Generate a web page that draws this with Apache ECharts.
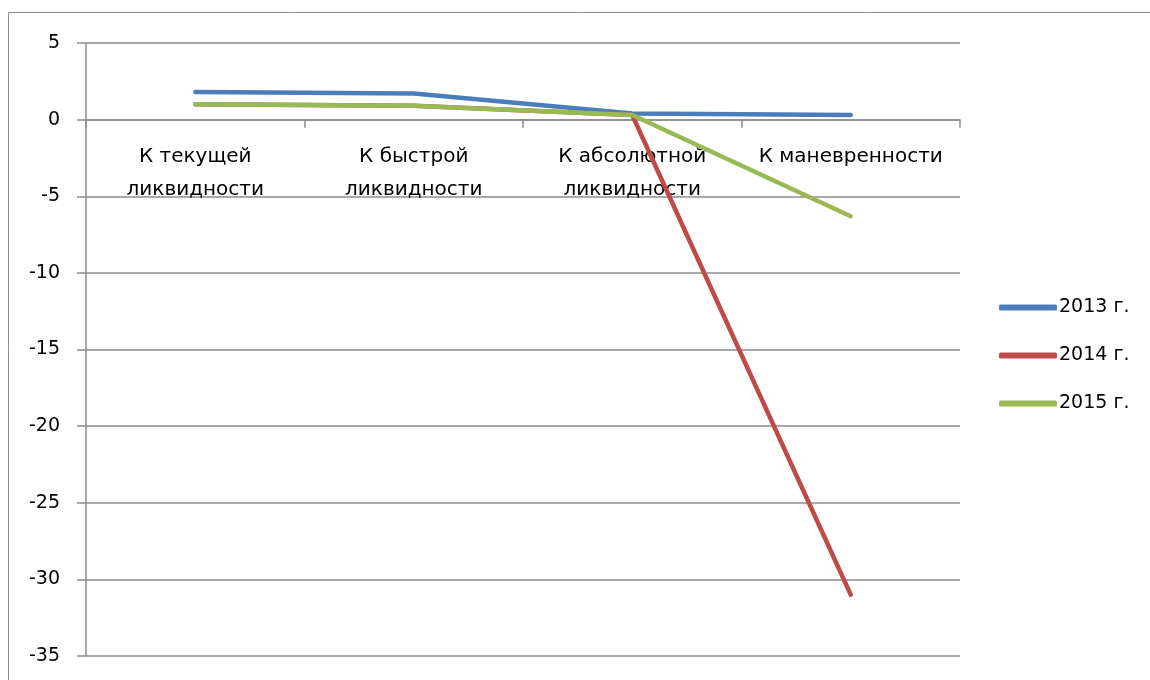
<!DOCTYPE html>
<html>
<head>
<meta charset="utf-8">
<script src="https://cdn.jsdelivr.net/npm/echarts@6/dist/echarts.min.js"></script>
<style>
  html, body { margin: 0; padding: 0; background: #fff; }
  #chart { width: 1150px; height: 680px; }
</style>
</head>
<body>
<div id="chart"></div>
<script>
// Liquidity ratios by year
const categories = ['К текущей\nликвидности', 'К быстрой\nликвидности', 'К абсолютной\nликвидности', 'К маневренности'];
const seriesNames = ['2013 г.', '2014 г.', '2015 г.'];
const values2013 = [1.8, 1.7, 0.4, 0.3];
const values2014 = [1.0, 0.9, 0.3, -31.0];
const values2015 = [1.0, 0.9, 0.3, -6.3];
const yTicks = { min: -35, max: 5, interval: 5 };
const colors = ['#4A7EBB', '#BE4B48', '#98B954'];

const FONT = '"DejaVu Sans", sans-serif';
const GRAY = '#8c8c8c';

const chart = echarts.init(document.getElementById('chart'), null, { renderer: 'canvas' });

function lineSeries(name, data, color) {
  return {
    name: name,
    type: 'line',
    data: data,
    showSymbol: false,
    symbol: 'none',
    smooth: false,
    lineStyle: { color: color, width: 4.5, cap: 'round', join: 'round' },
    itemStyle: { color: color }
  };
}

chart.setOption({
  animation: false,
  backgroundColor: '#ffffff',
  textStyle: { fontFamily: FONT },
  graphic: [{
    type: 'rect',
    shape: { x: 8.5, y: 12.5, width: 1300, height: 800 },
    style: { fill: 'none', stroke: GRAY, lineWidth: 1 },
    silent: true,
    z: -1
  }],
  grid: { left: 86, right: 190, top: 43, bottom: 24, containLabel: false, outerBoundsMode: 'none' },
  legend: {
    orient: 'vertical',
    left: 994,
    top: 292,
    itemWidth: 58,
    itemHeight: 6,
    itemGap: 27,
    icon: 'roundRect',
    data: seriesNames,
    textStyle: { fontFamily: FONT, fontSize: 19, color: '#000', padding: [0, 0, 0, -3], lineHeight: 21 }
  },
  xAxis: {
    type: 'category',
    data: categories,
    boundaryGap: true,
    position: 'bottom',
    offset: 0,
    axisLine: { onZero: false, lineStyle: { color: GRAY, width: 1.5 } },
    axisTick: { show: true, alignWithLabel: false, length: 8, lineStyle: { color: GRAY, width: 1.5 } },
    axisLabel: {
      interval: 0,
      margin: 21,
      fontFamily: FONT,
      fontSize: 20,
      lineHeight: 33,
      color: '#000'
    },
    splitLine: { show: false }
  },
  yAxis: {
    type: 'value',
    min: yTicks.min,
    max: yTicks.max,
    interval: yTicks.interval,
    axisLine: { show: true, lineStyle: { color: GRAY, width: 1.5 } },
    axisTick: { show: true, length: 9, lineStyle: { color: GRAY, width: 1.5 } },
    axisLabel: { margin: 26, fontFamily: FONT, fontSize: 19, color: '#000' },
    splitLine: { show: true, lineStyle: { color: GRAY, width: 1.5 } }
  },
  series: [
    lineSeries(seriesNames[0], values2013, colors[0]),
    lineSeries(seriesNames[1], values2014, colors[1]),
    lineSeries(seriesNames[2], values2015, colors[2])
  ]
});

// Lift the category axis (line, ticks and labels) up to the zero value of the value axis
const zeroY = chart.convertToPixel({ yAxisIndex: 0 }, 0);
const bottomY = chart.convertToPixel({ yAxisIndex: 0 }, yTicks.min);
chart.setOption({ xAxis: { offset: zeroY - bottomY } });
</script>
</body>
</html>
